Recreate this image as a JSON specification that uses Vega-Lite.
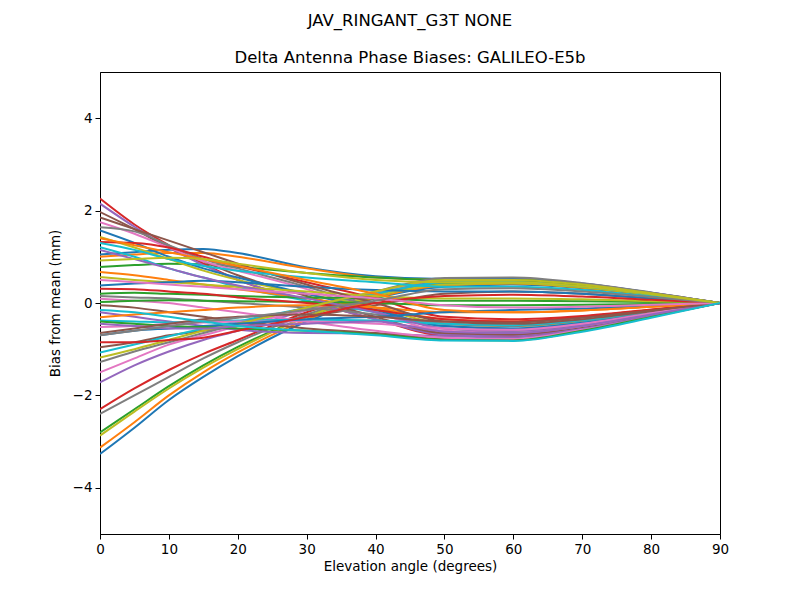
{
  "$schema": "https://vega.github.io/schema/vega-lite/v6.json",
  "autosize": "none",
  "width": 620,
  "height": 462,
  "padding": {"left": 100, "top": 72, "right": 80, "bottom": 66},
  "background": "white",
  "title": {
    "text": "JAV_RINGANT_G3T NONE",
    "subtitle": "Delta Antenna Phase Biases: GALILEO-E5b",
    "font": "DejaVu Sans",
    "fontSize": 16.5,
    "fontWeight": "normal",
    "color": "black",
    "subtitleFont": "DejaVu Sans",
    "subtitleFontSize": 16.5,
    "subtitleColor": "black",
    "subtitlePadding": 20,
    "offset": 6,
    "anchor": "middle"
  },
  "config": {
    "view": {"stroke": "black", "strokeWidth": 1},
    "axis": {
      "grid": false,
      "domainColor": "black",
      "tickColor": "black",
      "tickSize": 5,
      "labelColor": "black",
      "labelFont": "DejaVu Sans",
      "labelFontSize": 13.5,
      "labelPadding": 3,
      "titleFont": "DejaVu Sans",
      "titleFontSize": 13.5,
      "titleFontWeight": "normal",
      "titleColor": "black"
    }
  },
  "data": {"values": [
{"s":"s01","e":0,"v":-3.27},{"s":"s01","e":5,"v":-2.7},{"s":"s01","e":10,"v":-2.1},{"s":"s01","e":15,"v":-1.6},{"s":"s01","e":20,"v":-1.15},{"s":"s01","e":30,"v":-0.4},{"s":"s01","e":40,"v":0.1},{"s":"s01","e":50,"v":0.35},{"s":"s01","e":60,"v":0.4},{"s":"s01","e":70,"v":0.32},{"s":"s01","e":80,"v":0.17},{"s":"s01","e":90,"v":0},
{"s":"s02","e":0,"v":-3.13},{"s":"s02","e":5,"v":-2.58},{"s":"s02","e":10,"v":-2.0},{"s":"s02","e":15,"v":-1.5},{"s":"s02","e":20,"v":-1.07},{"s":"s02","e":30,"v":-0.36},{"s":"s02","e":40,"v":0.12},{"s":"s02","e":50,"v":0.38},{"s":"s02","e":60,"v":0.42},{"s":"s02","e":70,"v":0.33},{"s":"s02","e":80,"v":0.18},{"s":"s02","e":90,"v":0},
{"s":"s03","e":0,"v":-2.8},{"s":"s03","e":5,"v":-2.3},{"s":"s03","e":10,"v":-1.8},{"s":"s03","e":15,"v":-1.35},{"s":"s03","e":20,"v":-0.95},{"s":"s03","e":30,"v":-0.3},{"s":"s03","e":40,"v":0.15},{"s":"s03","e":50,"v":0.42},{"s":"s03","e":60,"v":0.45},{"s":"s03","e":70,"v":0.35},{"s":"s03","e":80,"v":0.19},{"s":"s03","e":90,"v":0},
{"s":"s04","e":0,"v":-2.3},{"s":"s04","e":5,"v":-1.85},{"s":"s04","e":10,"v":-1.45},{"s":"s04","e":15,"v":-1.1},{"s":"s04","e":20,"v":-0.8},{"s":"s04","e":30,"v":-0.2},{"s":"s04","e":40,"v":0.2},{"s":"s04","e":50,"v":0.48},{"s":"s04","e":60,"v":0.5},{"s":"s04","e":70,"v":0.4},{"s":"s04","e":80,"v":0.21},{"s":"s04","e":90,"v":0},
{"s":"s05","e":0,"v":-1.72},{"s":"s05","e":5,"v":-1.35},{"s":"s05","e":10,"v":-1.05},{"s":"s05","e":15,"v":-0.8},{"s":"s05","e":20,"v":-0.6},{"s":"s05","e":30,"v":-0.15},{"s":"s05","e":40,"v":0.2},{"s":"s05","e":50,"v":0.5},{"s":"s05","e":60,"v":0.52},{"s":"s05","e":70,"v":0.41},{"s":"s05","e":80,"v":0.22},{"s":"s05","e":90,"v":0},
{"s":"s06","e":0,"v":-0.96},{"s":"s06","e":5,"v":-0.85},{"s":"s06","e":10,"v":-0.7},{"s":"s06","e":15,"v":-0.6},{"s":"s06","e":20,"v":-0.5},{"s":"s06","e":30,"v":-0.3},{"s":"s06","e":40,"v":-0.05},{"s":"s06","e":50,"v":0.2},{"s":"s06","e":60,"v":0.25},{"s":"s06","e":70,"v":0.2},{"s":"s06","e":80,"v":0.1},{"s":"s06","e":90,"v":0},
{"s":"s07","e":0,"v":-1.5},{"s":"s07","e":5,"v":-1.2},{"s":"s07","e":10,"v":-0.9},{"s":"s07","e":15,"v":-0.7},{"s":"s07","e":20,"v":-0.5},{"s":"s07","e":30,"v":-0.15},{"s":"s07","e":40,"v":0.22},{"s":"s07","e":50,"v":0.52},{"s":"s07","e":60,"v":0.53},{"s":"s07","e":70,"v":0.42},{"s":"s07","e":80,"v":0.22},{"s":"s07","e":90,"v":0},
{"s":"s08","e":0,"v":-2.4},{"s":"s08","e":5,"v":-2.0},{"s":"s08","e":10,"v":-1.6},{"s":"s08","e":15,"v":-1.2},{"s":"s08","e":20,"v":-0.85},{"s":"s08","e":30,"v":-0.25},{"s":"s08","e":40,"v":0.15},{"s":"s08","e":50,"v":0.45},{"s":"s08","e":60,"v":0.48},{"s":"s08","e":70,"v":0.37},{"s":"s08","e":80,"v":0.2},{"s":"s08","e":90,"v":0},
{"s":"s09","e":0,"v":-2.87},{"s":"s09","e":5,"v":-2.35},{"s":"s09","e":10,"v":-1.85},{"s":"s09","e":15,"v":-1.4},{"s":"s09","e":20,"v":-1.0},{"s":"s09","e":30,"v":-0.3},{"s":"s09","e":40,"v":0.15},{"s":"s09","e":50,"v":0.4},{"s":"s09","e":60,"v":0.43},{"s":"s09","e":70,"v":0.34},{"s":"s09","e":80,"v":0.18},{"s":"s09","e":90,"v":0},
{"s":"s10","e":0,"v":-1.07},{"s":"s10","e":5,"v":-0.9},{"s":"s10","e":10,"v":-0.72},{"s":"s10","e":15,"v":-0.55},{"s":"s10","e":20,"v":-0.4},{"s":"s10","e":30,"v":-0.1},{"s":"s10","e":40,"v":0.2},{"s":"s10","e":50,"v":0.45},{"s":"s10","e":60,"v":0.46},{"s":"s10","e":70,"v":0.36},{"s":"s10","e":80,"v":0.19},{"s":"s10","e":90,"v":0},
{"s":"s11","e":0,"v":1.05},{"s":"s11","e":5,"v":1.1},{"s":"s11","e":10,"v":1.15},{"s":"s11","e":15,"v":1.17},{"s":"s11","e":20,"v":1.08},{"s":"s11","e":30,"v":0.77},{"s":"s11","e":40,"v":0.58},{"s":"s11","e":50,"v":0.52},{"s":"s11","e":60,"v":0.52},{"s":"s11","e":70,"v":0.42},{"s":"s11","e":80,"v":0.22},{"s":"s11","e":90,"v":0},
{"s":"s12","e":0,"v":1.0},{"s":"s12","e":5,"v":1.05},{"s":"s12","e":10,"v":1.08},{"s":"s12","e":15,"v":1.08},{"s":"s12","e":20,"v":1.0},{"s":"s12","e":30,"v":0.75},{"s":"s12","e":40,"v":0.55},{"s":"s12","e":50,"v":0.5},{"s":"s12","e":60,"v":0.5},{"s":"s12","e":70,"v":0.4},{"s":"s12","e":80,"v":0.21},{"s":"s12","e":90,"v":0},
{"s":"s13","e":0,"v":0.78},{"s":"s13","e":5,"v":0.82},{"s":"s13","e":10,"v":0.85},{"s":"s13","e":15,"v":0.84},{"s":"s13","e":20,"v":0.78},{"s":"s13","e":30,"v":0.65},{"s":"s13","e":40,"v":0.55},{"s":"s13","e":50,"v":0.5},{"s":"s13","e":60,"v":0.5},{"s":"s13","e":70,"v":0.4},{"s":"s13","e":80,"v":0.21},{"s":"s13","e":90,"v":0},
{"s":"s14","e":0,"v":2.26},{"s":"s14","e":5,"v":1.7},{"s":"s14","e":10,"v":1.25},{"s":"s14","e":15,"v":0.85},{"s":"s14","e":20,"v":0.5},{"s":"s14","e":30,"v":0.05},{"s":"s14","e":40,"v":-0.35},{"s":"s14","e":50,"v":-0.7},{"s":"s14","e":60,"v":-0.72},{"s":"s14","e":70,"v":-0.55},{"s":"s14","e":80,"v":-0.28},{"s":"s14","e":90,"v":0},
{"s":"s15","e":0,"v":2.15},{"s":"s15","e":5,"v":1.65},{"s":"s15","e":10,"v":1.2},{"s":"s15","e":15,"v":0.82},{"s":"s15","e":20,"v":0.5},{"s":"s15","e":30,"v":0.05},{"s":"s15","e":40,"v":-0.35},{"s":"s15","e":50,"v":-0.68},{"s":"s15","e":60,"v":-0.7},{"s":"s15","e":70,"v":-0.54},{"s":"s15","e":80,"v":-0.27},{"s":"s15","e":90,"v":0},
{"s":"s16","e":0,"v":1.97},{"s":"s16","e":5,"v":1.6},{"s":"s16","e":10,"v":1.2},{"s":"s16","e":15,"v":0.9},{"s":"s16","e":20,"v":0.6},{"s":"s16","e":30,"v":0.15},{"s":"s16","e":40,"v":-0.3},{"s":"s16","e":50,"v":-0.65},{"s":"s16","e":60,"v":-0.68},{"s":"s16","e":70,"v":-0.52},{"s":"s16","e":80,"v":-0.26},{"s":"s16","e":90,"v":0},
{"s":"s17","e":0,"v":1.75},{"s":"s17","e":5,"v":1.5},{"s":"s17","e":10,"v":1.2},{"s":"s17","e":15,"v":0.9},{"s":"s17","e":20,"v":0.7},{"s":"s17","e":30,"v":0.3},{"s":"s17","e":40,"v":-0.2},{"s":"s17","e":50,"v":-0.6},{"s":"s17","e":60,"v":-0.64},{"s":"s17","e":70,"v":-0.5},{"s":"s17","e":80,"v":-0.25},{"s":"s17","e":90,"v":0},
{"s":"s18","e":0,"v":1.64},{"s":"s18","e":5,"v":1.55},{"s":"s18","e":10,"v":1.25},{"s":"s18","e":15,"v":0.95},{"s":"s18","e":20,"v":0.75},{"s":"s18","e":30,"v":0.35},{"s":"s18","e":40,"v":-0.1},{"s":"s18","e":50,"v":-0.55},{"s":"s18","e":60,"v":-0.6},{"s":"s18","e":70,"v":-0.47},{"s":"s18","e":80,"v":-0.24},{"s":"s18","e":90,"v":0},
{"s":"s19","e":0,"v":1.43},{"s":"s19","e":5,"v":1.2},{"s":"s19","e":10,"v":0.95},{"s":"s19","e":15,"v":0.7},{"s":"s19","e":20,"v":0.5},{"s":"s19","e":30,"v":0.2},{"s":"s19","e":40,"v":-0.1},{"s":"s19","e":50,"v":-0.45},{"s":"s19","e":60,"v":-0.5},{"s":"s19","e":70,"v":-0.4},{"s":"s19","e":80,"v":-0.2},{"s":"s19","e":90,"v":0},
{"s":"s20","e":0,"v":1.21},{"s":"s20","e":5,"v":1.0},{"s":"s20","e":10,"v":0.75},{"s":"s20","e":15,"v":0.55},{"s":"s20","e":20,"v":0.35},{"s":"s20","e":30,"v":0.05},{"s":"s20","e":40,"v":-0.2},{"s":"s20","e":50,"v":-0.5},{"s":"s20","e":60,"v":-0.55},{"s":"s20","e":70,"v":-0.42},{"s":"s20","e":80,"v":-0.21},{"s":"s20","e":90,"v":0},
{"s":"s21","e":0,"v":1.57},{"s":"s21","e":5,"v":1.3},{"s":"s21","e":10,"v":1.0},{"s":"s21","e":15,"v":0.75},{"s":"s21","e":20,"v":0.55},{"s":"s21","e":30,"v":0.2},{"s":"s21","e":40,"v":-0.15},{"s":"s21","e":50,"v":-0.5},{"s":"s21","e":60,"v":-0.55},{"s":"s21","e":70,"v":-0.43},{"s":"s21","e":80,"v":-0.22},{"s":"s21","e":90,"v":0},
{"s":"s22","e":0,"v":0.67},{"s":"s22","e":5,"v":0.6},{"s":"s22","e":10,"v":0.5},{"s":"s22","e":15,"v":0.4},{"s":"s22","e":20,"v":0.3},{"s":"s22","e":30,"v":0.1},{"s":"s22","e":40,"v":-0.1},{"s":"s22","e":50,"v":-0.35},{"s":"s22","e":60,"v":-0.4},{"s":"s22","e":70,"v":-0.3},{"s":"s22","e":80,"v":-0.15},{"s":"s22","e":90,"v":0},
{"s":"s23","e":0,"v":0.2},{"s":"s23","e":5,"v":0.22},{"s":"s23","e":10,"v":0.2},{"s":"s23","e":15,"v":0.18},{"s":"s23","e":20,"v":0.15},{"s":"s23","e":30,"v":0.12},{"s":"s23","e":40,"v":0.1},{"s":"s23","e":50,"v":0.05},{"s":"s23","e":60,"v":0.05},{"s":"s23","e":70,"v":0.04},{"s":"s23","e":80,"v":0.02},{"s":"s23","e":90,"v":0},
{"s":"s24","e":0,"v":1.32},{"s":"s24","e":5,"v":1.3},{"s":"s24","e":10,"v":1.2},{"s":"s24","e":15,"v":1.0},{"s":"s24","e":20,"v":0.8},{"s":"s24","e":30,"v":0.45},{"s":"s24","e":40,"v":0.1},{"s":"s24","e":50,"v":-0.3},{"s":"s24","e":60,"v":-0.35},{"s":"s24","e":70,"v":-0.28},{"s":"s24","e":80,"v":-0.14},{"s":"s24","e":90,"v":0},
{"s":"s25","e":0,"v":-0.2},{"s":"s25","e":5,"v":-0.3},{"s":"s25","e":10,"v":-0.4},{"s":"s25","e":15,"v":-0.5},{"s":"s25","e":20,"v":-0.58},{"s":"s25","e":30,"v":-0.65},{"s":"s25","e":40,"v":-0.66},{"s":"s25","e":50,"v":-0.72},{"s":"s25","e":60,"v":-0.74},{"s":"s25","e":70,"v":-0.56},{"s":"s25","e":80,"v":-0.28},{"s":"s25","e":90,"v":0},
{"s":"s26","e":0,"v":-0.05},{"s":"s26","e":5,"v":-0.1},{"s":"s26","e":10,"v":-0.2},{"s":"s26","e":15,"v":-0.3},{"s":"s26","e":20,"v":-0.4},{"s":"s26","e":30,"v":-0.55},{"s":"s26","e":40,"v":-0.65},{"s":"s26","e":50,"v":-0.78},{"s":"s26","e":60,"v":-0.8},{"s":"s26","e":70,"v":-0.6},{"s":"s26","e":80,"v":-0.3},{"s":"s26","e":90,"v":0},
{"s":"s27","e":0,"v":0.09},{"s":"s27","e":5,"v":0.05},{"s":"s27","e":10,"v":0.0},{"s":"s27","e":15,"v":-0.1},{"s":"s27","e":20,"v":-0.2},{"s":"s27","e":30,"v":-0.4},{"s":"s27","e":40,"v":-0.6},{"s":"s27","e":50,"v":-0.75},{"s":"s27","e":60,"v":-0.78},{"s":"s27","e":70,"v":-0.58},{"s":"s27","e":80,"v":-0.3},{"s":"s27","e":90,"v":0},
{"s":"s28","e":0,"v":0.15},{"s":"s28","e":5,"v":0.12},{"s":"s28","e":10,"v":0.1},{"s":"s28","e":15,"v":0.05},{"s":"s28","e":20,"v":0.0},{"s":"s28","e":30,"v":-0.1},{"s":"s28","e":40,"v":-0.25},{"s":"s28","e":50,"v":-0.45},{"s":"s28","e":60,"v":-0.5},{"s":"s28","e":70,"v":-0.38},{"s":"s28","e":80,"v":-0.19},{"s":"s28","e":90,"v":0},
{"s":"s29","e":0,"v":0.56},{"s":"s29","e":5,"v":0.5},{"s":"s29","e":10,"v":0.45},{"s":"s29","e":15,"v":0.4},{"s":"s29","e":20,"v":0.35},{"s":"s29","e":30,"v":0.25},{"s":"s29","e":40,"v":0.15},{"s":"s29","e":50,"v":0.1},{"s":"s29","e":60,"v":0.1},{"s":"s29","e":70,"v":0.08},{"s":"s29","e":80,"v":0.04},{"s":"s29","e":90,"v":0},
{"s":"s30","e":0,"v":-0.38},{"s":"s30","e":5,"v":-0.4},{"s":"s30","e":10,"v":-0.42},{"s":"s30","e":15,"v":-0.4},{"s":"s30","e":20,"v":-0.38},{"s":"s30","e":30,"v":-0.36},{"s":"s30","e":40,"v":-0.38},{"s":"s30","e":50,"v":-0.45},{"s":"s30","e":60,"v":-0.48},{"s":"s30","e":70,"v":-0.37},{"s":"s30","e":80,"v":-0.18},{"s":"s30","e":90,"v":0},
{"s":"s31","e":0,"v":0.38},{"s":"s31","e":5,"v":0.42},{"s":"s31","e":10,"v":0.45},{"s":"s31","e":15,"v":0.48},{"s":"s31","e":20,"v":0.45},{"s":"s31","e":30,"v":0.35},{"s":"s31","e":40,"v":0.28},{"s":"s31","e":50,"v":0.25},{"s":"s31","e":60,"v":0.25},{"s":"s31","e":70,"v":0.2},{"s":"s31","e":80,"v":0.1},{"s":"s31","e":90,"v":0},
{"s":"s32","e":0,"v":-0.31},{"s":"s32","e":5,"v":-0.25},{"s":"s32","e":10,"v":-0.2},{"s":"s32","e":15,"v":-0.15},{"s":"s32","e":20,"v":-0.1},{"s":"s32","e":30,"v":-0.05},{"s":"s32","e":40,"v":-0.1},{"s":"s32","e":50,"v":-0.2},{"s":"s32","e":60,"v":-0.2},{"s":"s32","e":70,"v":-0.16},{"s":"s32","e":80,"v":-0.08},{"s":"s32","e":90,"v":0},
{"s":"s33","e":0,"v":0.02},{"s":"s33","e":5,"v":0.05},{"s":"s33","e":10,"v":0.06},{"s":"s33","e":15,"v":0.05},{"s":"s33","e":20,"v":0.04},{"s":"s33","e":30,"v":0.02},{"s":"s33","e":40,"v":0.0},{"s":"s33","e":50,"v":-0.05},{"s":"s33","e":60,"v":-0.05},{"s":"s33","e":70,"v":-0.04},{"s":"s33","e":80,"v":-0.02},{"s":"s33","e":90,"v":0},
{"s":"s34","e":0,"v":0.31},{"s":"s34","e":5,"v":0.3},{"s":"s34","e":10,"v":0.25},{"s":"s34","e":15,"v":0.2},{"s":"s34","e":20,"v":0.12},{"s":"s34","e":30,"v":0.0},{"s":"s34","e":40,"v":-0.15},{"s":"s34","e":50,"v":-0.35},{"s":"s34","e":60,"v":-0.4},{"s":"s34","e":70,"v":-0.3},{"s":"s34","e":80,"v":-0.15},{"s":"s34","e":90,"v":0},
{"s":"s35","e":0,"v":1.15},{"s":"s35","e":5,"v":0.95},{"s":"s35","e":10,"v":0.75},{"s":"s35","e":15,"v":0.55},{"s":"s35","e":20,"v":0.38},{"s":"s35","e":30,"v":0.1},{"s":"s35","e":40,"v":-0.2},{"s":"s35","e":50,"v":-0.55},{"s":"s35","e":60,"v":-0.6},{"s":"s35","e":70,"v":-0.46},{"s":"s35","e":80,"v":-0.23},{"s":"s35","e":90,"v":0},
{"s":"s36","e":0,"v":1.85},{"s":"s36","e":5,"v":1.6},{"s":"s36","e":10,"v":1.35},{"s":"s36","e":15,"v":1.1},{"s":"s36","e":20,"v":0.85},{"s":"s36","e":30,"v":0.4},{"s":"s36","e":40,"v":0.0},{"s":"s36","e":50,"v":-0.4},{"s":"s36","e":60,"v":-0.45},{"s":"s36","e":70,"v":-0.35},{"s":"s36","e":80,"v":-0.18},{"s":"s36","e":90,"v":0},
{"s":"s37","e":0,"v":-0.52},{"s":"s37","e":5,"v":-0.5},{"s":"s37","e":10,"v":-0.45},{"s":"s37","e":15,"v":-0.42},{"s":"s37","e":20,"v":-0.4},{"s":"s37","e":30,"v":-0.4},{"s":"s37","e":40,"v":-0.45},{"s":"s37","e":50,"v":-0.55},{"s":"s37","e":60,"v":-0.58},{"s":"s37","e":70,"v":-0.45},{"s":"s37","e":80,"v":-0.22},{"s":"s37","e":90,"v":0},
{"s":"s38","e":0,"v":-1.28},{"s":"s38","e":5,"v":-1.05},{"s":"s38","e":10,"v":-0.85},{"s":"s38","e":15,"v":-0.65},{"s":"s38","e":20,"v":-0.45},{"s":"s38","e":30,"v":-0.1},{"s":"s38","e":40,"v":0.25},{"s":"s38","e":50,"v":0.54},{"s":"s38","e":60,"v":0.55},{"s":"s38","e":70,"v":0.43},{"s":"s38","e":80,"v":0.23},{"s":"s38","e":90,"v":0},
{"s":"s39","e":0,"v":-1.18},{"s":"s39","e":5,"v":-1.0},{"s":"s39","e":10,"v":-0.8},{"s":"s39","e":15,"v":-0.6},{"s":"s39","e":20,"v":-0.45},{"s":"s39","e":30,"v":-0.1},{"s":"s39","e":40,"v":0.25},{"s":"s39","e":50,"v":0.5},{"s":"s39","e":60,"v":0.5},{"s":"s39","e":70,"v":0.4},{"s":"s39","e":80,"v":0.21},{"s":"s39","e":90,"v":0},
{"s":"s40","e":0,"v":1.3},{"s":"s40","e":5,"v":1.15},{"s":"s40","e":10,"v":0.95},{"s":"s40","e":15,"v":0.8},{"s":"s40","e":20,"v":0.7},{"s":"s40","e":30,"v":0.55},{"s":"s40","e":40,"v":0.45},{"s":"s40","e":50,"v":0.35},{"s":"s40","e":60,"v":0.35},{"s":"s40","e":70,"v":0.28},{"s":"s40","e":80,"v":0.14},{"s":"s40","e":90,"v":0},
{"s":"s41","e":0,"v":-0.7},{"s":"s41","e":5,"v":-0.6},{"s":"s41","e":10,"v":-0.55},{"s":"s41","e":15,"v":-0.5},{"s":"s41","e":20,"v":-0.45},{"s":"s41","e":30,"v":-0.35},{"s":"s41","e":40,"v":-0.3},{"s":"s41","e":50,"v":-0.2},{"s":"s41","e":60,"v":-0.15},{"s":"s41","e":70,"v":-0.12},{"s":"s41","e":80,"v":-0.06},{"s":"s41","e":90,"v":0},
{"s":"s42","e":0,"v":1.4},{"s":"s42","e":5,"v":1.25},{"s":"s42","e":10,"v":1.1},{"s":"s42","e":15,"v":0.95},{"s":"s42","e":20,"v":0.8},{"s":"s42","e":30,"v":0.5},{"s":"s42","e":40,"v":0.2},{"s":"s42","e":50,"v":-0.15},{"s":"s42","e":60,"v":-0.2},{"s":"s42","e":70,"v":-0.16},{"s":"s42","e":80,"v":-0.08},{"s":"s42","e":90,"v":0},
{"s":"s43","e":0,"v":-0.4},{"s":"s43","e":5,"v":-0.45},{"s":"s43","e":10,"v":-0.5},{"s":"s43","e":15,"v":-0.52},{"s":"s43","e":20,"v":-0.55},{"s":"s43","e":30,"v":-0.6},{"s":"s43","e":40,"v":-0.68},{"s":"s43","e":50,"v":-0.8},{"s":"s43","e":60,"v":-0.81},{"s":"s43","e":70,"v":-0.6},{"s":"s43","e":80,"v":-0.3},{"s":"s43","e":90,"v":0},
{"s":"s44","e":0,"v":-0.85},{"s":"s44","e":5,"v":-0.85},{"s":"s44","e":10,"v":-0.8},{"s":"s44","e":15,"v":-0.75},{"s":"s44","e":20,"v":-0.6},{"s":"s44","e":30,"v":-0.3},{"s":"s44","e":40,"v":0.0},{"s":"s44","e":50,"v":0.15},{"s":"s44","e":60,"v":0.18},{"s":"s44","e":70,"v":0.14},{"s":"s44","e":80,"v":0.07},{"s":"s44","e":90,"v":0},
{"s":"s45","e":0,"v":-0.45},{"s":"s45","e":5,"v":-0.5},{"s":"s45","e":10,"v":-0.55},{"s":"s45","e":15,"v":-0.55},{"s":"s45","e":20,"v":-0.5},{"s":"s45","e":30,"v":-0.45},{"s":"s45","e":40,"v":-0.4},{"s":"s45","e":50,"v":-0.62},{"s":"s45","e":60,"v":-0.65},{"s":"s45","e":70,"v":-0.5},{"s":"s45","e":80,"v":-0.25},{"s":"s45","e":90,"v":0},
{"s":"s46","e":0,"v":-0.65},{"s":"s46","e":5,"v":-0.55},{"s":"s46","e":10,"v":-0.45},{"s":"s46","e":15,"v":-0.35},{"s":"s46","e":20,"v":-0.3},{"s":"s46","e":30,"v":-0.25},{"s":"s46","e":40,"v":-0.3},{"s":"s46","e":50,"v":-0.4},{"s":"s46","e":60,"v":-0.42},{"s":"s46","e":70,"v":-0.32},{"s":"s46","e":80,"v":-0.16},{"s":"s46","e":90,"v":0},
{"s":"s47","e":0,"v":0.5},{"s":"s47","e":5,"v":0.45},{"s":"s47","e":10,"v":0.4},{"s":"s47","e":15,"v":0.35},{"s":"s47","e":20,"v":0.3},{"s":"s47","e":30,"v":0.2},{"s":"s47","e":40,"v":0.1},{"s":"s47","e":50,"v":-0.05},{"s":"s47","e":60,"v":-0.1},{"s":"s47","e":70,"v":-0.08},{"s":"s47","e":80,"v":-0.04},{"s":"s47","e":90,"v":0},
{"s":"s48","e":0,"v":-0.7},{"s":"s48","e":5,"v":-0.6},{"s":"s48","e":10,"v":-0.5},{"s":"s48","e":15,"v":-0.4},{"s":"s48","e":20,"v":-0.32},{"s":"s48","e":30,"v":-0.15},{"s":"s48","e":40,"v":0.05},{"s":"s48","e":50,"v":0.3},{"s":"s48","e":60,"v":0.32},{"s":"s48","e":70,"v":0.25},{"s":"s48","e":80,"v":0.13},{"s":"s48","e":90,"v":0},
{"s":"s49","e":0,"v":0.92},{"s":"s49","e":5,"v":0.95},{"s":"s49","e":10,"v":0.98},{"s":"s49","e":15,"v":0.95},{"s":"s49","e":20,"v":0.85},{"s":"s49","e":30,"v":0.65},{"s":"s49","e":40,"v":0.5},{"s":"s49","e":50,"v":0.45},{"s":"s49","e":60,"v":0.45},{"s":"s49","e":70,"v":0.36},{"s":"s49","e":80,"v":0.19},{"s":"s49","e":90,"v":0},
{"s":"s50","e":0,"v":-0.15},{"s":"s50","e":5,"v":-0.2},{"s":"s50","e":10,"v":-0.3},{"s":"s50","e":15,"v":-0.4},{"s":"s50","e":20,"v":-0.5},{"s":"s50","e":30,"v":-0.6},{"s":"s50","e":40,"v":-0.7},{"s":"s50","e":50,"v":-0.81},{"s":"s50","e":60,"v":-0.82},{"s":"s50","e":70,"v":-0.62},{"s":"s50","e":80,"v":-0.32},{"s":"s50","e":90,"v":0}
  ]},
  "mark": {"type": "line", "interpolate": "monotone", "strokeWidth": 2, "clip": true},
  "encoding": {
    "x": {"field": "e", "type": "quantitative", "scale": {"domain": [0, 90], "nice": false},
      "axis": {"title": "Elevation angle (degrees)", "values": [0,10,20,30,40,50,60,70,80,90], "labelFlush": false, "titlePadding": 4}},
    "y": {"field": "v", "type": "quantitative", "scale": {"domain": [-5, 5], "nice": false},
      "axis": {"title": "Bias from mean (mm)", "values": [-4,-2,0,2,4], "titlePadding": 10}},
    "color": {"field": "s", "type": "nominal", "legend": null,
      "scale": {"range": ["#1f77b4","#ff7f0e","#2ca02c","#d62728","#9467bd","#8c564b","#e377c2","#7f7f7f","#bcbd22","#17becf"]}}
  }
}
